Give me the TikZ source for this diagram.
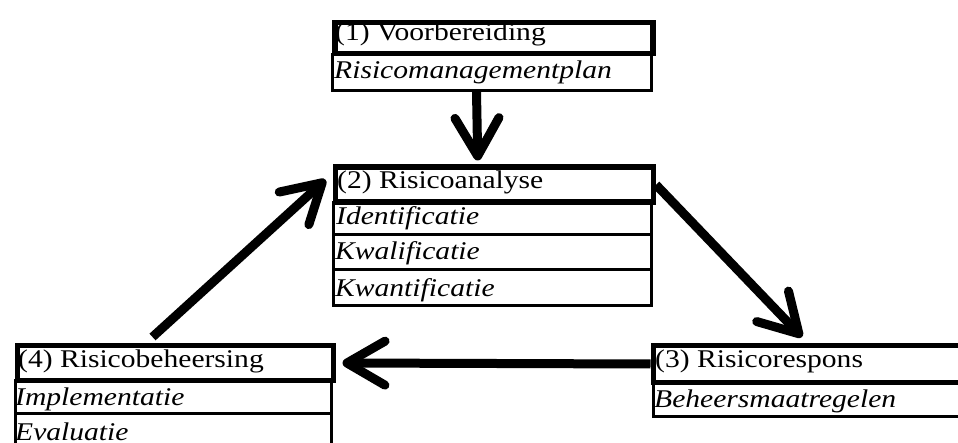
\documentclass[tikz,border=0pt]{standalone}
\usepackage{fontspec}
\setmainfont{Liberation Serif}[FakeStretch=1.16]
\usetikzlibrary{arrows.meta}
\begin{document}
\begin{tikzpicture}[x=1pt,y=-1pt,
  hdr/.style={draw, line width=5.5pt, inner sep=0pt, anchor=north west},
  row/.style={draw, line width=3pt, inner sep=0pt, anchor=north west},
  lbl/.style={anchor=base west, inner sep=0pt, font=\fontsize{25.5pt}{30pt}\selectfont},
  ilbl/.style={lbl, font=\fontsize{25.5pt}{30pt}\selectfont\itshape},
  flow/.style={line width=9pt, -{Straight Barb[length=38pt,width=44pt,round]}}
]
\useasboundingbox (0,0) rectangle (958,443);
\fill[white] (0,0) rectangle (958,443);
\clip (0,0) rectangle (958,443);

% rows
\node[row, minimum width=319pt, minimum height=35.5pt] (r1) at (331,53.5) {};
\node[row, minimum width=317.5pt, minimum height=32.5pt] (r2a) at (332,201) {};
\node[row, minimum width=317.5pt, minimum height=35pt] (r2b) at (332,233.5) {};
\node[row, minimum width=317.5pt, minimum height=36pt] (r2c) at (332,268.5) {};
\node[row, minimum width=316.5pt, minimum height=33pt] (r4a) at (13.5,379) {};
\node[row, minimum width=316.5pt, minimum height=58pt] (r4b) at (13.5,412) {};
\node[row, minimum width=338.5pt, minimum height=34.5pt] (r3) at (651.5,380) {};

% headers
\node[hdr, minimum width=318pt, minimum height=31pt] (h1) at (332,20) {};
\node[hdr, minimum width=318pt, minimum height=35pt] (h2) at (332.5,164.5) {};
\node[hdr, minimum width=316pt, minimum height=34.5pt] (h4) at (14.5,343) {};
\node[hdr, minimum width=339.5pt, minimum height=36.5pt] (h3) at (650.5,343) {};

% texts
\node[lbl] (t1) at (335,41) {(1) Voorbereiding};
\node[ilbl] (t1a) at (334,79) {Risicomanagementplan};
\node[lbl] (t2) at (337,189) {(2) Risicoanalyse};
\node[ilbl] (t2a) at (336,225) {Identificatie};
\node[ilbl] (t2b) at (335,260) {Kwalificatie};
\node[ilbl] (t2c) at (335,297) {Kwantificatie};
\node[lbl] (t4) at (18,367) {(4) Risicobeheersing};
\node[ilbl] (t4a) at (15,405) {Implementatie};
\node[ilbl] (t4b) at (15,440) {Evaluatie};
\node[lbl] (t3) at (655,367) {(3) Risicorespons};
\node[ilbl] (t3a) at (654,407) {Beheersmaatregelen};

% arrows
\draw[flow] ([xshift=-15.5pt]r1.south) -- ([xshift=-16.5pt,yshift=4pt]h2.north);
\draw[flow] (h2.east) -- ([xshift=151.5pt,yshift=6pt]h3.north west);
\draw[flow] (h3.west) -- ([xshift=6.5pt]h4.east);
\draw[flow] ([xshift=138pt,yshift=6pt]h4.north west) -- ([xshift=-7pt,yshift=5pt]h2.west);
\end{tikzpicture}
\end{document}
